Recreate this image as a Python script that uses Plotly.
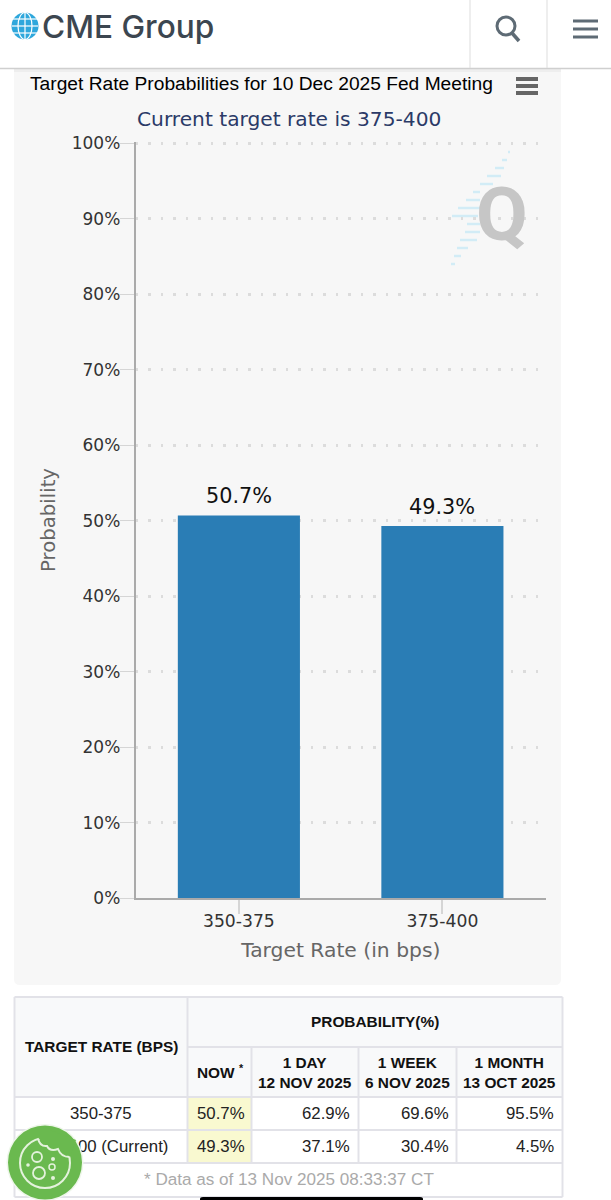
import plotly.graph_objects as go

W, H = 611, 1200
rates = ["350-375", "375-400"]
probs = [50.7, 49.3]
bar_labels = ["50.7%", "49.3%"]
y_ticks = [0, 10, 20, 30, 40, 50, 60, 70, 80, 90, 100]
y_tick_labels = [f"{v}%" for v in y_ticks]

col_rate = ["350-375", "375-400 (Current)"]
col_now = ["50.7%", "49.3%"]
col_day = ["62.9%", "37.1%"]
col_week = ["69.6%", "30.4%"]
col_month = ["95.5%", "4.5%"]
head_cols = ["NOW <sup>*</sup>", "1 DAY<br>12 NOV 2025", "1 WEEK<br>6 NOV 2025", "1 MONTH<br>13 OCT 2025"]


def px(x):
    return x / W


def py(y):
    return 1 - y / H


shapes = []
annots = []


def rect(x0, y0, x1, y1, fill, line=None, lw=0, layer="below"):
    shapes.append(dict(type="rect", xref="paper", yref="paper", x0=px(x0), x1=px(x1), y0=py(y0), y1=py(y1),
                       fillcolor=fill, line=dict(color=line or fill, width=lw), layer=layer))


def seg(x0, y0, x1, y1, color, lw=1, layer="above"):
    shapes.append(dict(type="line", xref="paper", yref="paper", x0=px(x0), x1=px(x1), y0=py(y0), y1=py(y1),
                       line=dict(color=color, width=lw), layer=layer))


def circ(cx, cy, r, fill="rgba(0,0,0,0)", line="rgba(0,0,0,0)", lw=0, layer="above"):
    shapes.append(dict(type="circle", xref="paper", yref="paper", x0=px(cx - r), x1=px(cx + r), y0=py(cy + r), y1=py(cy - r),
                       fillcolor=fill, line=dict(color=line, width=lw), layer=layer))


def text(x, y, s, size, color="#000", family="Liberation Sans", anchor="center", bold=False, weight=None):
    font = dict(size=size, color=color, family=family)
    if weight:
        font["weight"] = weight
    annots.append(dict(xref="paper", yref="paper", x=px(x), y=py(y), text=f"<b>{s}</b>" if bold else s,
                       showarrow=False, xanchor=anchor, yanchor="middle", font=font))


# panel
shapes.append(dict(type="path", xref="paper", yref="paper",
                   path=f"M {px(14)} {py(60)} L {px(561)} {py(60)} L {px(561)} {py(979)} Q {px(561)} {py(985)} {px(555)} {py(985)} "
                        f"L {px(20)} {py(985)} Q {px(14)} {py(985)} {px(14)} {py(979)} Z",
                   fillcolor="#f7f7f7", line=dict(width=0), layer="below"))

# watermark
streaks = [(508, 510, 152), (502, 507, 160), (495, 504, 168), (487, 501, 176), (480, 493, 184),
           (473, 480, 192), (466, 480, 200), (458, 480, 208), (452, 478, 216), (467, 480, 224),
           (465, 480, 232), (460, 477, 240), (457, 468, 248), (454, 461, 256), (451, 455, 264)]
for a, b, y in streaks:
    seg(a, y, b, y, "#d2ecf6", 2.5, layer="below")
text(501.5, 214, "Q", 75, "#c6c6c6", "Roboto", bold=True)

# header
rect(0, 0, W, 68, "#ffffff", layer="below")
rect(14, 68, 561, 72, "#eeeeee", layer="below")
seg(0, 68.5, W, 68.5, "#cfcfcf", 1.5)
seg(470, 0, 470, 68, "#dddddd", 1)
seg(547, 0, 547, 68, "#dddddd", 1)
circ(25, 26, 13.5, fill="#2ea7dc")
for dy in (-7, 0, 7):
    seg(12, 26 + dy, 38, 26 + dy, "#ffffff", 1.2)
seg(25, 12, 25, 40, "#ffffff", 1.2)
shapes.append(dict(type="circle", xref="paper", yref="paper", x0=px(18), x1=px(32), y0=py(39.5), y1=py(12.5),
                   fillcolor="rgba(0,0,0,0)", line=dict(color="#ffffff", width=1.2)))
text(40, 26, "CME Group", 31.6, "#3c4650", "Inter", anchor="left", weight=500)
circ(506, 26, 9, line="#5e6b75", lw=3)
seg(512, 33, 519, 41, "#5e6b75", 3.5)
for y in (21, 29, 37):
    seg(573, y, 598, y, "#5e6b75", 3)

# chart title / menu
text(28, 83, "Target Rate Probabilities for 10 Dec 2025 Fed Meeting", 19.2, "#000", "Liberation Sans", anchor="left")
for y in (79, 86, 93):
    seg(516, y, 538, y, "#666666", 4)
text(289, 119, "Current target rate is 375-400", 20.2, "#2b3a67", "DejaVu Sans")

# table
X = [14.5, 187.5, 251.5, 358.5, 456.5, 562.5]
Y = [997, 1047, 1097, 1130, 1163, 1197]
rect(X[0], Y[0], X[5], Y[2], "#f8f9fa")
rect(X[0], Y[2], X[5], Y[5], "#ffffff")
rect(X[1], Y[2], X[2], Y[4], "#f9f9d0")
GR = "#e2e2e8"
for yy in Y:
    seg(X[0], yy, X[5], yy, GR, 2, layer="below") if yy != Y[1] else seg(X[1], yy, X[5], yy, GR, 2, layer="below")
for xx in (X[0], X[5]):
    seg(xx, Y[0], xx, Y[5], GR, 2, layer="below")
seg(X[1], Y[0], X[1], Y[4], GR, 2, layer="below")
for xx in X[2:5]:
    seg(xx, Y[1], xx, Y[4], GR, 2, layer="below")

text(101, 1046, "TARGET RATE (BPS)", 15.4, "#111", bold=True)
text(375, 1021, "PROBABILITY(%)", 15.4, "#111", bold=True)
text(220, 1071, head_cols[0], 15.4, "#111", bold=True)
for i, hc in enumerate(head_cols[1:]):
    text((X[i + 2] + X[i + 3]) / 2, 1072, hc, 15.4, "#111", bold=True)
for r in range(2):
    yc = (Y[2 + r] + Y[3 + r]) / 2
    text(101, yc, col_rate[r], 16.8, "#222")
    text(221, yc, col_now[r], 16.8, "#222")
    text(X[3] - 6, yc, col_day[r], 16.8, "#222", anchor="right")
    text(X[4] - 6, yc, col_week[r], 16.8, "#222", anchor="right")
    text(X[5] - 7, yc, col_month[r], 16.8, "#222", anchor="right")
text(289, 1179, "* Data as of 13 Nov 2025 08:33:37 CT", 17.1, "#aaaaaa")

# cookie button
INK = "#e4f2dc"
circ(45, 1162.5, 38.5, fill="#eef6ea")
circ(45, 1162.5, 37, fill="#6ab94f")
circ(45, 1163, 25, line=INK, lw=2)
shapes.append(dict(type="path", xref="paper", yref="paper",
                   path=f"M {px(38)} {py(1138)} L {px(47)} {py(1146)} L {px(58)} {py(1149)} L {px(70)} {py(1157)} "
                        f"L {px(76)} {py(1140)} L {px(50)} {py(1130)} Z",
                   fillcolor="#6ab94f", line=dict(width=0), layer="above"))
shapes.append(dict(type="path", xref="paper", yref="paper",
                   path=f"M {px(38)} {py(1138.5)} Q {px(40)} {py(1147)} {px(47)} {py(1146)} "
                        f"Q {px(50)} {py(1152)} {px(58)} {py(1149)} Q {px(61)} {py(1157)} {px(69.5)} {py(1157)}",
                   line=dict(color=INK, width=2), layer="above"))
circ(37, 1157, 5, line=INK, lw=1.8)
circ(39, 1173, 6, line=INK, lw=1.8)
circ(52, 1167, 3, line=INK, lw=1.5)
circ(28, 1165, 1.8, fill=INK)
circ(53, 1159, 2, fill=INK)
circ(53, 1178, 2, fill=INK)

# home indicator
shapes.append(dict(type="path", xref="paper", yref="paper",
                   path=f"M {px(200)} {py(1200)} L {px(200)} {py(1199)} Q {px(200)} {py(1197)} {px(203)} {py(1197)} "
                        f"L {px(420)} {py(1197)} Q {px(423)} {py(1197)} {px(423)} {py(1199)} L {px(423)} {py(1200)} Z",
                   fillcolor="#000000", line=dict(width=0), layer="above"))

# bar value labels, placed through the data axes
for r, v, lab in zip(rates, probs, bar_labels):
    annots.append(dict(xref="x", yref="y", x=r, y=v, text=lab, showarrow=False, yanchor="bottom", yshift=5,
                       font=dict(size=20.8, color="#111", family="DejaVu Sans")))

fig = go.Figure(go.Bar(
    x=rates, y=probs, marker=dict(color="#2a7db5", line=dict(width=0)), width=0.6, hoverinfo="skip",
))
fig.update_layout(
    template="none",
    width=W, height=H, margin=dict(l=0, r=0, t=0, b=0, pad=0), paper_bgcolor="#ffffff", plot_bgcolor="rgba(0,0,0,0)",
    showlegend=False, shapes=shapes, annotations=annots,
    xaxis=dict(domain=[px(135.5), px(546)], range=[-0.508, 1.509], automargin=False, showline=True, linecolor="#aaaaaa",
               linewidth=1.5, ticks="outside", ticklen=14, tickcolor="#d5d5d5", tickwidth=1.5, showgrid=False,
               zeroline=False, ticklabelstandoff=-7,
               tickfont=dict(size=17.2, color="#333", family="DejaVu Sans"),
               title=dict(text="Target Rate (in bps)", standoff=12,
                          font=dict(size=20.3, color="#666", family="DejaVu Sans"))),
    yaxis=dict(domain=[py(898), py(142)], range=[0, 100.2], tickvals=y_ticks, ticktext=y_tick_labels, automargin=False,
               showline=True, linecolor="#aaaaaa", linewidth=1.5, ticks="outside", ticklen=14, tickcolor="#d5d5d5",
               tickwidth=1, showgrid=True, gridcolor="#dcdcdc", gridwidth=2.5, griddash="2.5px,10px", zeroline=False,
               ticklabelstandoff=-4,
               tickfont=dict(size=17, color="#333", family="DejaVu Sans"),
               title=dict(text="Probability", standoff=11, font=dict(size=19.7, color="#666", family="DejaVu Sans"))),
)
# The cookie button covers part of a table cell in the reference, so the top shape layer goes over the texts.
post = ("document.body.style.margin='0';"
        "var top_shapes=document.querySelector('.layer-above');"
        "document.querySelectorAll('.main-svg')[1].appendChild(top_shapes);")
fig.write_html("out.html", config=dict(displayModeBar=False), post_script=post)
